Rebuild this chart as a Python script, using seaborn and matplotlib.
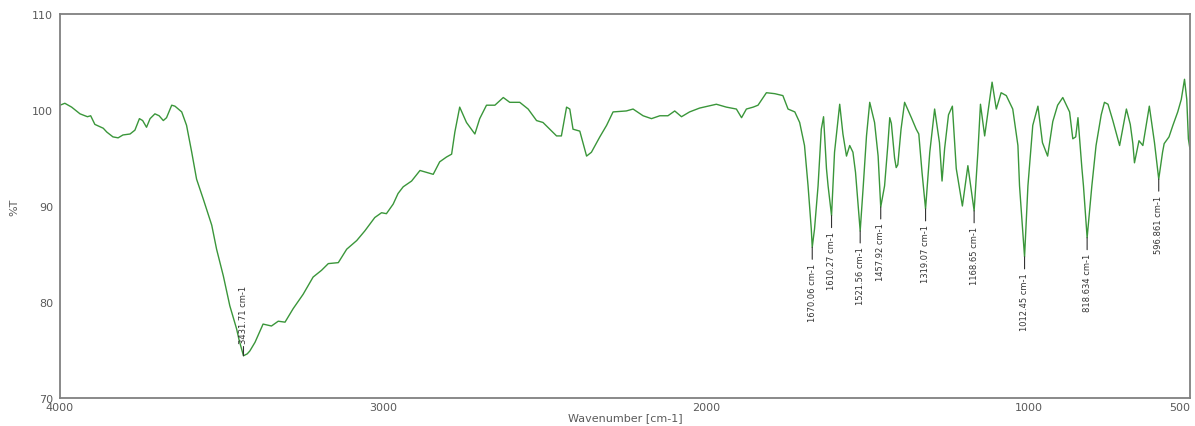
import matplotlib
matplotlib.use("Agg")
import matplotlib.pyplot as plt
from matplotlib.ticker import MultipleLocator, FixedLocator
import seaborn as sns
import pandas as pd

# FT-IR transmittance spectrum, 4000 -> 500 cm-1
wavenumber = [
    4000, 3985, 3964, 3938, 3915, 3905, 3892, 3866, 3855, 3836, 3820, 3805, 3783, 3768,
    3754, 3744, 3732, 3721, 3706, 3693, 3680, 3670, 3654, 3644, 3623, 3608, 3592, 3577,
    3556, 3530, 3515, 3494, 3474, 3453, 3445, 3431.71, 3420, 3412, 3396, 3371, 3345, 3324,
    3303, 3278, 3247, 3216, 3190, 3169, 3138, 3112, 3081, 3056, 3025, 3004, 2989, 2968,
    2953, 2937, 2911, 2885, 2865, 2844, 2824, 2803, 2787, 2777, 2762, 2741, 2715, 2700,
    2679, 2653, 2627, 2607, 2576, 2550, 2524, 2504, 2483, 2462, 2447, 2431, 2421, 2411,
    2390, 2369, 2354, 2328, 2307, 2287, 2246, 2225, 2194, 2168, 2142, 2117, 2096, 2075,
    2050, 2019, 1967, 1936, 1905, 1889, 1874, 1853, 1838, 1812, 1786, 1761, 1745, 1724,
    1709, 1694, 1683, 1673, 1670.06, 1663, 1652, 1642, 1635, 1626, 1621, 1610.27, 1601,
    1590, 1585, 1575, 1564, 1554, 1544, 1536, 1530, 1521.56, 1512, 1502, 1492, 1477,
    1466, 1457.92, 1446, 1436, 1430, 1425, 1415, 1410, 1405, 1395, 1384, 1363, 1348,
    1340, 1330, 1319.07, 1306, 1291, 1276, 1268, 1260, 1248, 1236, 1224, 1205, 1188,
    1168.65, 1157, 1149, 1136, 1125, 1113, 1100, 1085, 1069, 1049, 1033, 1028, 1012.45,
    1002, 987, 971, 957, 941, 925, 910, 894, 873, 863, 854, 847, 835, 830, 818.634,
    804, 791, 775, 765, 754, 739, 718, 697, 685, 677, 672, 658, 646, 626, 610, 596.861,
    585, 580, 565, 553, 538, 527, 517, 510, 505, 500,
]
transmittance = [
    100.5, 100.7, 100.3, 99.6, 99.3, 99.4, 98.5, 98.1, 97.7, 97.2, 97.1, 97.4, 97.5, 97.9,
    99.1, 98.9, 98.2, 99.1, 99.6, 99.4, 98.9, 99.2, 100.5, 100.4, 99.8, 98.4, 95.6, 92.8,
    90.7, 88.0, 85.5, 82.7, 79.6, 77.2, 76.0, 74.4, 74.6, 74.9, 75.8, 77.7, 77.5, 78.0,
    77.9, 79.3, 80.8, 82.6, 83.3, 84.0, 84.1, 85.5, 86.4, 87.4, 88.8, 89.3, 89.2, 90.2,
    91.3, 92.0, 92.6, 93.7, 93.5, 93.3, 94.6, 95.1, 95.4, 97.7, 100.3, 98.7, 97.5, 99.1,
    100.5, 100.5, 101.3, 100.8, 100.8, 100.1, 98.9, 98.7, 98.0, 97.3, 97.3, 100.3, 100.1, 98.0,
    97.8, 95.2, 95.6, 97.2, 98.4, 99.8, 99.9, 100.1, 99.4, 99.1, 99.4, 99.4, 99.9, 99.3,
    99.8, 100.2, 100.6, 100.3, 100.1, 99.2, 100.1, 100.3, 100.5, 101.8, 101.7, 101.5, 100.1, 99.8,
    98.7, 96.3, 92.1, 87.6, 85.7, 87.6, 92.1, 98.0, 99.3, 93.9, 92.1, 89.0, 95.6,
    99.1, 100.6, 97.5, 95.2, 96.3, 95.6, 93.5, 91.0, 87.4, 92.1, 97.3, 100.8, 98.7,
    95.2, 89.9, 92.1, 96.3, 99.2, 98.6, 95.0, 94.0, 94.3, 98.0, 100.8, 99.2, 98.0,
    97.5, 93.5, 89.7, 95.6, 100.1, 96.6, 92.6, 96.0, 99.5, 100.4, 93.9, 90.0, 94.2,
    89.5, 95.6, 100.6, 97.3, 100.0, 102.9, 100.1, 101.8, 101.5, 100.1, 96.3, 92.1, 84.7,
    92.1, 98.4, 100.4, 96.6, 95.2, 98.8, 100.5, 101.3, 99.8, 97.0, 97.2, 99.2, 94.0, 92.1, 86.7,
    92.1, 96.3, 99.5, 100.8, 100.6, 98.9, 96.3, 100.1, 98.5, 96.5, 94.5, 96.8, 96.3, 100.4, 96.6, 92.8,
    95.6, 96.5, 97.2, 98.4, 99.8, 101.1, 103.2, 101.1, 97.0, 95.9,
]

# Picked peaks
peak_wavenumber = [3431.71, 1670.06, 1610.27, 1521.56, 1457.92, 1319.07, 1168.65, 1012.45, 818.634, 596.861]
peak_labels = ["3431.71 cm-1", "1670.06 cm-1", "1610.27 cm-1", "1521.56 cm-1", "1457.92 cm-1",
               "1319.07 cm-1", "1168.65 cm-1", "1012.45 cm-1", "818.634 cm-1", "596.861 cm-1"]

x_major = [4000, 3000, 2000, 1000, 500]
x_minor = [3500, 2500, 1500]

df = pd.DataFrame({"wn": wavenumber, "T": transmittance})
peak_T = [df.loc[df["wn"] == w, "T"].iloc[0] for w in peak_wavenumber]

sns.set_style("white")
plt.rcParams["font.family"] = ["DejaVu Sans"]

fig = plt.figure(figsize=(11.95, 4.27), dpi=100)
ax = fig.add_axes([60 / 1195, 28 / 427, 1130 / 1195, 384 / 427])

sns.lineplot(data=df, x="wn", y="T", ax=ax, sort=False, color="#3a963a", lw=1.0, estimator=None)

ax.set_xlim(4000, 500)
ax.set_ylim(70, 110)

ax.xaxis.set_major_locator(FixedLocator(x_major))
ax.xaxis.set_minor_locator(FixedLocator(x_minor))
ax.yaxis.set_major_locator(MultipleLocator(10))
ax.yaxis.set_minor_locator(MultipleLocator(5))

gray = "#808080"
for s in ax.spines.values():
    s.set_color(gray)
    s.set_linewidth(1.3)
    s.set_visible(True)

ax.tick_params(which="major", direction="in", length=5, width=1, color=gray,
               labelsize=8, labelcolor="#5a5a5a")
ax.tick_params(which="minor", direction="in", length=3, width=0.8, color=gray)
ax.tick_params(axis="y", pad=5)
ax.tick_params(axis="x", pad=3)

# keep the last wavenumber label inside the figure edge
fig.canvas.draw()
ax.get_xticklabels()[-1].set_horizontalalignment("right")

ax.set_xlabel("Wavenumber [cm-1]", fontsize=8, color="#5a5a5a", labelpad=0)
ax.set_ylabel("%T", fontsize=8, color="#5a5a5a", labelpad=9)

for w, t, lab in zip(peak_wavenumber, peak_T, peak_labels):
    up = w > 3000
    ax.annotate(lab, xy=(w, t), xytext=(0, 9 if up else -11), textcoords="offset points",
                rotation=90, ha="center", va="bottom" if up else "top",
                fontsize=6, color="#333333",
                arrowprops=dict(arrowstyle="-", color="#333333", lw=0.8,
                                shrinkA=0, shrinkB=0))

fig.savefig("out.png", dpi=100)
